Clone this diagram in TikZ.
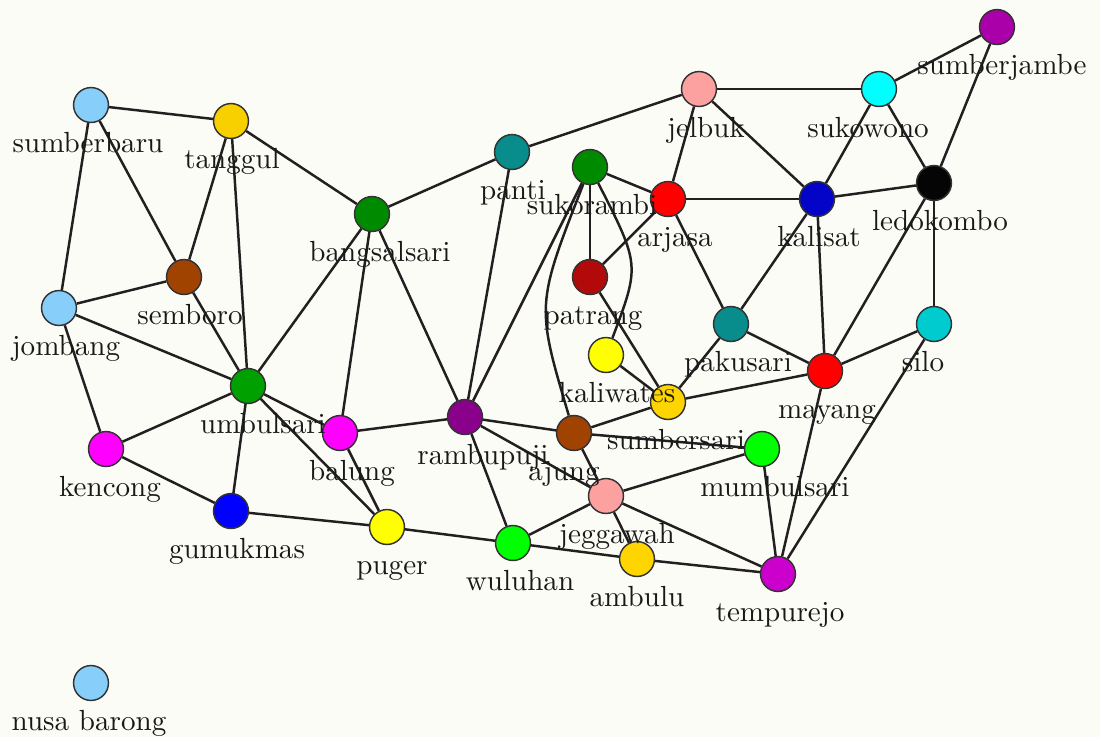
\documentclass[tikz,border=0pt]{standalone}
\usetikzlibrary{backgrounds}
\definecolor{paper}{HTML}{FCFCF6}
\definecolor{roadcol}{HTML}{231F20}
\definecolor{skyblue}{HTML}{87CEFA}
\definecolor{goldA}{HTML}{F8D000}
\definecolor{goldB}{HTML}{FFD500}
\definecolor{tealc}{HTML}{088C8C}
\definecolor{darkgreen}{HTML}{008A00}
\definecolor{midgreen}{HTML}{00A000}
\definecolor{limec}{HTML}{00FF00}
\definecolor{brownc}{HTML}{A04200}
\definecolor{darkred}{HTML}{B20A0A}
\definecolor{redc}{HTML}{FF0000}
\definecolor{cyanc}{HTML}{00FFFF}
\definecolor{turq}{HTML}{00CCD0}
\definecolor{yellowc}{HTML}{FFFF00}
\definecolor{pinkc}{HTML}{FCA0A0}
\definecolor{magentac}{HTML}{FF00FF}
\definecolor{purpleA}{HTML}{AA00AA}
\definecolor{purpleB}{HTML}{8B008B}
\definecolor{purpleC}{HTML}{CC00CC}
\definecolor{bluec}{HTML}{0404C8}
\definecolor{blueb}{HTML}{0000FF}
\definecolor{blackc}{HTML}{050505}
\pgfdeclarelayer{paperlayer}
\pgfdeclarelayer{roads}
\pgfsetlayers{paperlayer,roads,main}
\begin{document}
\begin{tikzpicture}[x=0.3436pt,y=-0.3436pt,
  town/.style={circle,draw=black!80,line width=0.5pt,minimum size=12pt,inner sep=0pt},
  townlabel/.style={anchor=base,inner sep=0pt,text=black!90},
  road/.style={line width=0.85pt,draw=roadcol}]

\begin{pgfonlayer}{paperlayer}
  \fill[paper] (0,0) rectangle (1100,737);
\end{pgfonlayer}
\useasboundingbox (0,0) rectangle (1100,737);

% towns
\node[town,fill=purpleA]   (sumberjambe) at (997,27) {};
\node[town,fill=pinkc]     (jelbuk)      at (699,89) {};
\node[town,fill=cyanc]     (sukowono)    at (879,89) {};
\node[town,fill=skyblue]   (sumberbaru)  at (91,105) {};
\node[town,fill=goldA]     (tanggul)     at (231,121) {};
\node[town,fill=tealc]     (panti)       at (512,152) {};
\node[town,fill=darkgreen] (sukorambi)   at (590,167) {};
\node[town,fill=redc]      (arjasa)      at (668,199) {};
\node[town,fill=bluec]     (kalisat)     at (817,199) {};
\node[town,fill=blackc]    (ledokombo)   at (934,183) {};
\node[town,fill=darkgreen] (bangsalsari) at (372,214) {};
\node[town,fill=brownc]    (semboro)     at (184,277) {};
\node[town,fill=darkred]   (patrang)     at (590,277) {};
\node[town,fill=skyblue]   (jombang)     at (59,308) {};
\node[town,fill=tealc]     (pakusari)    at (731,324) {};
\node[town,fill=turq]      (silo)        at (934,324) {};
\node[town,fill=yellowc]   (kaliwates)   at (606,355) {};
\node[town,fill=redc]      (mayang)      at (825,371) {};
\node[town,fill=goldB]     (sumbersari)  at (668,402) {};
\node[town,fill=midgreen]  (umbulsari)   at (248,386) {};
\node[town,fill=purpleB]   (rambupuji)   at (465,417) {};
\node[town,fill=magentac]  (balung)      at (340,433) {};
\node[town,fill=brownc]    (ajung)       at (574,433) {};
\node[town,fill=limec]     (mumbulsari)  at (762,449) {};
\node[town,fill=magentac]  (kencong)     at (106,449) {};
\node[town,fill=pinkc]     (jeggawah)    at (606,496) {};
\node[town,fill=blueb]     (gumukmas)    at (231,511) {};
\node[town,fill=yellowc]   (puger)       at (387,527) {};
\node[town,fill=limec]     (wuluhan)     at (513,543) {};
\node[town,fill=goldB]     (ambulu)      at (637,559) {};
\node[town,fill=purpleC]   (tempurejo)   at (778,574) {};
\node[town,fill=skyblue]   (nusabarong)  at (91,683) {};

% roads
\begin{pgfonlayer}{roads}
\draw[road] (sumberbaru) -- (tanggul);
\draw[road] (sumberbaru) -- (jombang);
\draw[road] (sumberbaru) -- (semboro);
\draw[road] (tanggul) -- (semboro);
\draw[road] (tanggul) -- (umbulsari);
\draw[road] (tanggul) -- (bangsalsari);
\draw[road] (jombang) -- (semboro);
\draw[road] (jombang) -- (umbulsari);
\draw[road] (jombang) -- (kencong);
\draw[road] (semboro) -- (umbulsari);
\draw[road] (umbulsari) -- (bangsalsari);
\draw[road] (umbulsari) -- (kencong);
\draw[road] (umbulsari) -- (gumukmas);
\draw[road] (umbulsari) -- (balung);
\draw[road] (umbulsari) -- (puger);
\draw[road] (kencong) -- (gumukmas);
\draw[road] (gumukmas) -- (puger);
\draw[road] (bangsalsari) -- (panti);
\draw[road] (bangsalsari) -- (balung);
\draw[road] (bangsalsari) -- (rambupuji);
\draw[road] (balung) -- (rambupuji);
\draw[road] (balung) -- (puger);
\draw[road] (panti) -- (jelbuk);
\draw[road] (panti) -- (rambupuji);
\draw[road] (puger) -- (wuluhan);
\draw[road] (rambupuji) -- (sukorambi);
\draw[road] (rambupuji) -- (ajung);
\draw[road] (rambupuji) -- (wuluhan);
\draw[road] (rambupuji) -- (jeggawah);
\draw[road] (sukorambi) -- (arjasa);
\draw[road] (sukorambi) -- (patrang);
\draw[road] (sukorambi) .. controls (536,305) .. (ajung);
\draw[road] (sukorambi) .. controls (640,265) .. (kaliwates);
\draw[road] (patrang) -- (sumbersari);
\draw[road] (kaliwates) -- (sumbersari);
\draw[road] (arjasa) -- (patrang);
\draw[road] (arjasa) -- (jelbuk);
\draw[road] (arjasa) -- (kalisat);
\draw[road] (arjasa) -- (pakusari);
\draw[road] (jelbuk) -- (sukowono);
\draw[road] (jelbuk) -- (kalisat);
\draw[road] (sukowono) -- (sumberjambe);
\draw[road] (sukowono) -- (kalisat);
\draw[road] (sukowono) -- (ledokombo);
\draw[road] (sumberjambe) -- (ledokombo);
\draw[road] (kalisat) -- (ledokombo);
\draw[road] (kalisat) -- (pakusari);
\draw[road] (kalisat) -- (mayang);
\draw[road] (ledokombo) -- (silo);
\draw[road] (ledokombo) -- (mayang);
\draw[road] (pakusari) -- (sumbersari);
\draw[road] (pakusari) -- (mayang);
\draw[road] (silo) -- (mayang);
\draw[road] (silo) -- (tempurejo);
\draw[road] (sumbersari) -- (ajung);
\draw[road] (sumbersari) -- (mayang);
\draw[road] (ajung) -- (jeggawah);
\draw[road] (ajung) -- (mumbulsari);
\draw[road] (mumbulsari) -- (jeggawah);
\draw[road] (mumbulsari) -- (tempurejo);
\draw[road] (mayang) -- (tempurejo);
\draw[road] (jeggawah) -- (ambulu);
\draw[road] (jeggawah) -- (tempurejo);
\draw[road] (jeggawah) -- (wuluhan);
\draw[road] (wuluhan) -- (ambulu);
\draw[road] (ambulu) -- (tempurejo);
\end{pgfonlayer}

% town names
\node[townlabel] (sumberjambe-l) at (1002,74)  {sumberjambe};
\node[townlabel] (jelbuk-l)      at (706,137)  {jelbuk};
\node[townlabel] (sukowono-l)    at (868,137)  {sukowono};
\node[townlabel] (sumberbaru-l)  at (88,152)   {sumberbaru};
\node[townlabel] (tanggul-l)     at (232,168)  {tanggul};
\node[townlabel] (panti-l)       at (513,199)  {panti};
\node[townlabel] (sukorambi-l)   at (592,214)  {sukorambi};
\node[townlabel] (arjasa-l)      at (675,246)  {arjasa};
\node[townlabel] (kalisat-l)     at (819,246)  {kalisat};
\node[townlabel] (ledokombo-l)   at (940,230)  {ledokombo};
\node[townlabel] (bangsalsari-l) at (380,261)  {bangsalsari};
\node[townlabel] (semboro-l)     at (190,324)  {semboro};
\node[townlabel] (patrang-l)     at (593,324)  {patrang};
\node[townlabel] (jombang-l)     at (66,355)   {jombang};
\node[townlabel] (pakusari-l)    at (738,371)  {pakusari};
\node[townlabel] (silo-l)        at (923,371)  {silo};
\node[townlabel] (kaliwates-l)   at (617,402)  {kaliwates};
\node[townlabel] (mayang-l)      at (827,418)  {mayang};
\node[townlabel] (sumbersari-l)  at (676,449)  {sumbersari};
\node[townlabel] (umbulsari-l)   at (263,433)  {umbulsari};
\node[townlabel] (rambupuji-l)   at (483,464)  {rambupuji};
\node[townlabel] (balung-l)      at (352,480)  {balung};
\node[townlabel] (ajung-l)       at (564,480)  {ajung};
\node[townlabel] (mumbulsari-l)  at (775,496)  {mumbulsari};
\node[townlabel] (kencong-l)     at (110,496)  {kencong};
\node[townlabel] (jeggawah-l)    at (617,543)  {jeggawah};
\node[townlabel] (gumukmas-l)    at (237,558)  {gumukmas};
\node[townlabel] (puger-l)       at (392,574)  {puger};
\node[townlabel] (wuluhan-l)     at (520,590)  {wuluhan};
\node[townlabel] (ambulu-l)      at (637,606)  {ambulu};
\node[townlabel] (tempurejo-l)   at (780,621)  {tempurejo};
\node[townlabel] (nusabarong-l)  at (89,730)   {nusa barong};
\end{tikzpicture}
\end{document}
